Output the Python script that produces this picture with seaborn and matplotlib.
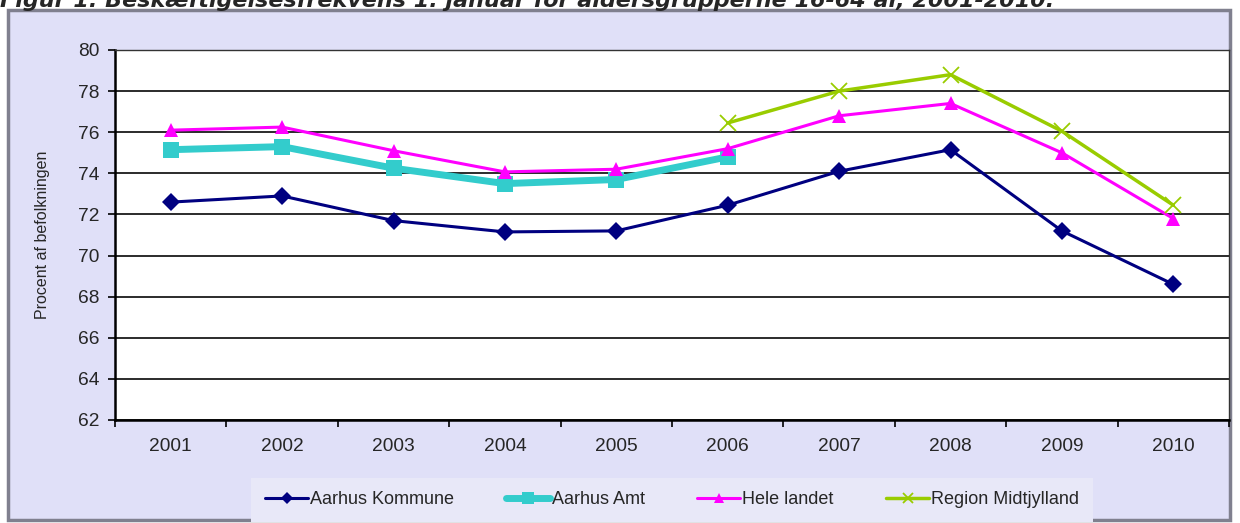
#!/usr/bin/env python3
import numpy as np
import pandas as pd

import matplotlib as mpl
mpl.use('Agg')
import matplotlib.pyplot as plt
from matplotlib.patches import Rectangle
import seaborn as sns

years = ['2001', '2002', '2003', '2004', '2005', '2006', '2007', '2008', '2009', '2010']

aarhus_kommune = [72.6, 72.9, 71.7, 71.15, 71.2, 72.45, 74.1, 75.15, 71.2, 68.6]
aarhus_amt = [75.15, 75.3, 74.25, 73.5, 73.7, 74.8, None, None, None, None]
hele_landet = [76.1, 76.25, 75.1, 74.07, 74.2, 75.2, 76.8, 77.4, 75.0, 71.8]
region_midt = [None, None, None, None, None, 76.45, 78.0, 78.8, 76.05, 72.45]

series_names = ['Aarhus Kommune', 'Aarhus Amt', 'Hele landet', 'Region Midtjylland']
series_values = [aarhus_kommune, aarhus_amt, hele_landet, region_midt]

styles = {
    'Aarhus Kommune': dict(color='#000080', marker='D', markersize=9, linewidth=2.2, mew=0),
    'Aarhus Amt': dict(color='#33CCCC', marker='s', markersize=12, linewidth=5, mew=0),
    'Hele landet': dict(color='#FF00FF', marker='^', markersize=10, linewidth=2.2, mew=0),
    'Region Midtjylland': dict(color='#99CC00', marker='x', markersize=11, linewidth=2.5, mew=1.3),
}

rows = []
for name, vals in zip(series_names, series_values):
    for i, v in enumerate(vals):
        if v is not None:
            rows.append({'pos': i, 'year': years[i], 'serie': name, 'value': v})
df = pd.DataFrame(rows)

sns.set_style('white')
plt.rcParams['font.family'] = ['Liberation Sans', 'DejaVu Sans']

fig = plt.figure(figsize=(12.4, 5.23), dpi=100)
fig.patch.set_facecolor('white')

# outer chart frame, behind the axes
frame = Rectangle((8 / 1240, 1 - 520 / 523), 1222 / 1240, 510 / 523,
                  transform=fig.transFigure, facecolor='#E0E0F8',
                  edgecolor='#80808F', linewidth=2.5, zorder=-10)
fig.add_artist(frame)

# title, cut off at top edge like the source
fig.text(0.0, 1.0, 'Figur 1. Beskæftigelsesfrekvens 1. januar for aldersgrupperne 16-64 år, 2001-2010.',
         ha='left', va='center', fontsize=16, fontweight='bold', fontstyle='italic',
         family=['DejaVu Sans'])

ax = fig.add_axes([115 / 1240, 1 - 420 / 523, 1114 / 1240, 370 / 523])
ax.set_zorder(1)
ax.set_facecolor('white')

for name in series_names:
    sub = df[df['serie'] == name]
    st = styles[name]
    sns.lineplot(data=sub, x='pos', y='value', ax=ax, color=st['color'], linewidth=st['linewidth'],
                 marker=st['marker'], markersize=st['markersize'], markeredgewidth=st['mew'],
                 markeredgecolor=st['color'], label=name, zorder=3)

ax.set_xlim(-0.5, len(years) - 0.5)
ax.set_ylim(62, 80)
ax.set_yticks(np.arange(62, 81, 2))
ax.yaxis.grid(True, color='#1a1a1a', linewidth=1.3)
ax.set_axisbelow(True)

ax.set_xticks(np.arange(len(years)))
ax.set_xticklabels(years)
ax.set_xticks(np.arange(-0.5, len(years), 1), minor=True)
ax.tick_params(axis='x', which='major', length=0, pad=13, labelsize=13.8)
ax.tick_params(axis='x', which='minor', length=5, width=1.2, direction='out', color='black')
ax.tick_params(axis='y', length=5, width=1.2, direction='out', color='black', labelsize=13.8, pad=6)
ax.tick_params(left=True, bottom=True, which='both')

for side in ['left', 'bottom']:
    ax.spines[side].set_color('black')
    ax.spines[side].set_linewidth(1.8)
for side in ['top', 'right']:
    ax.spines[side].set_color('#333333')
    ax.spines[side].set_linewidth(1.0)

ax.set_xlabel('')
ax.set_ylabel('Procent af befolkningen', fontsize=11.5, labelpad=20)

handles, labels = ax.get_legend_handles_labels()
ax.get_legend().remove()
leg = fig.legend(handles, labels, loc='center', bbox_to_anchor=(672 / 1240, 1 - 500 / 523),
                 ncol=4, frameon=True, fontsize=13, handlelength=2.4, columnspacing=2.9,
                 handletextpad=0.1, borderpad=0.45)
for h in leg.legend_handles:
    h.set_markersize(h.get_markersize() * 0.7)
leg.set_zorder(2)
leg.get_frame().set_facecolor('#E8E8F8')
leg.get_frame().set_edgecolor('none')
leg.get_frame().set_boxstyle('square')
leg.get_frame().set_alpha(1)

fig.savefig('out.png', dpi=100)
